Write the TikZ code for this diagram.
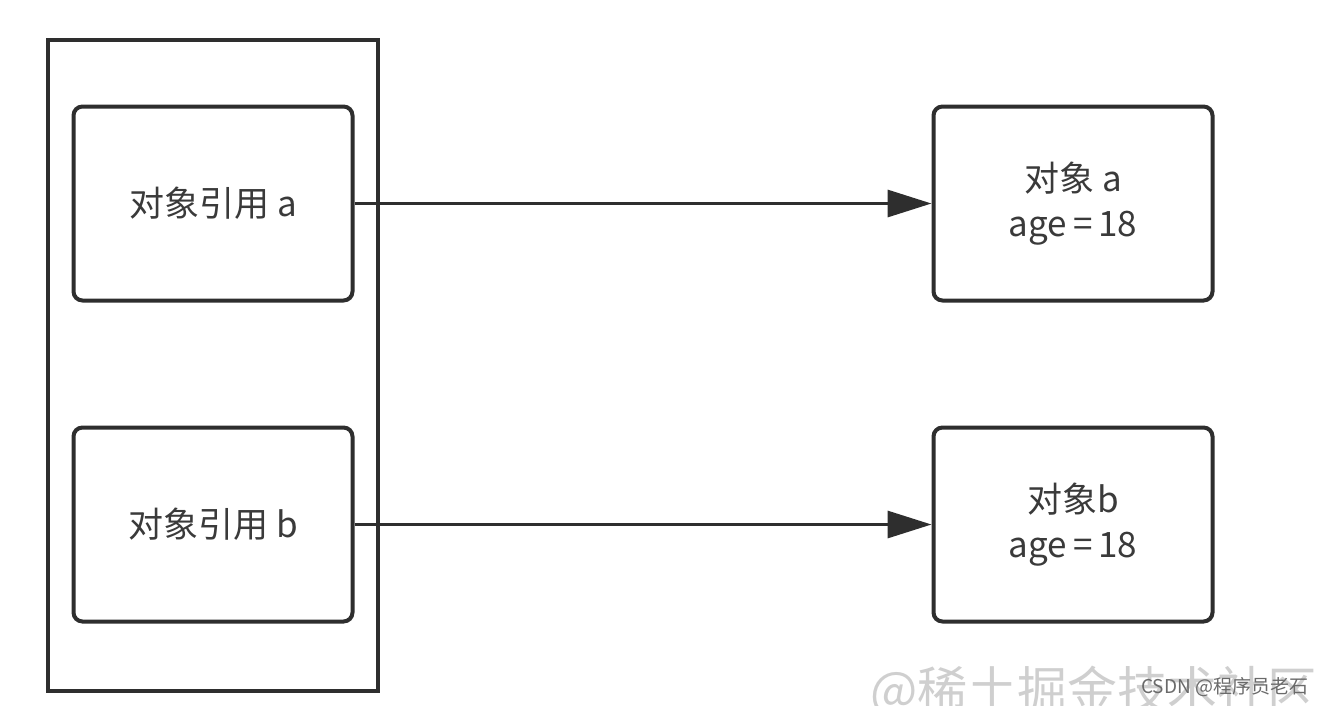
\documentclass[tikz,border=0pt]{standalone}
\usepackage{fontspec}
\setmainfont{Noto Sans CJK SC}
\usetikzlibrary{arrows.meta}
\definecolor{ink}{HTML}{2E2E2E}
\definecolor{txt}{HTML}{3A3A3A}
\definecolor{wm}{HTML}{CFCFCF}
\definecolor{wm2}{HTML}{6A6A6A}
\tikzset{
  refbox/.style={draw=ink, line width=4pt, rounded corners=9pt, minimum width=279pt, minimum height=194pt, inner sep=0pt, text=txt, font=\fontsize{35}{45}\selectfont, align=center},
  holder/.style={draw=ink, line width=4pt, minimum width=330pt, minimum height=651pt, inner sep=0pt},
  link/.style={draw=ink, line width=3.2pt, -{Triangle[length=44pt,width=27pt]}}
}
\begin{document}
\begin{tikzpicture}[x=1pt,y=-1pt]
\useasboundingbox[fill=white] (0,0) rectangle (1328,705);
\node[holder] (frame) at (212.5,365) {};
\node[refbox] (ra) at (213,203.5) {对象引用 a};
\node[refbox] (rb) at (213,524.5) {对象引用 b};
\node[refbox] (oa) at (1073,203.5) {对象 a\\age\,=\,18};
\node[refbox] (ob) at (1073,524.5) {对象b\\age\,=\,18};
\draw[link] (ra.east) -- (oa.west);
\draw[link] (rb.east) -- (ob.west);
\node[anchor=west, text=wm, font=\fontsize{50}{50}\selectfont, inner sep=0pt] (wmark) at (870,692) {@稀土掘金技术社区};
\node[anchor=west, text=wm2, font=\fontsize{19}{19}\selectfont, inner sep=0pt] (csdn) at (1141,687) {CSDN @程序员老石};
\end{tikzpicture}
\end{document}
